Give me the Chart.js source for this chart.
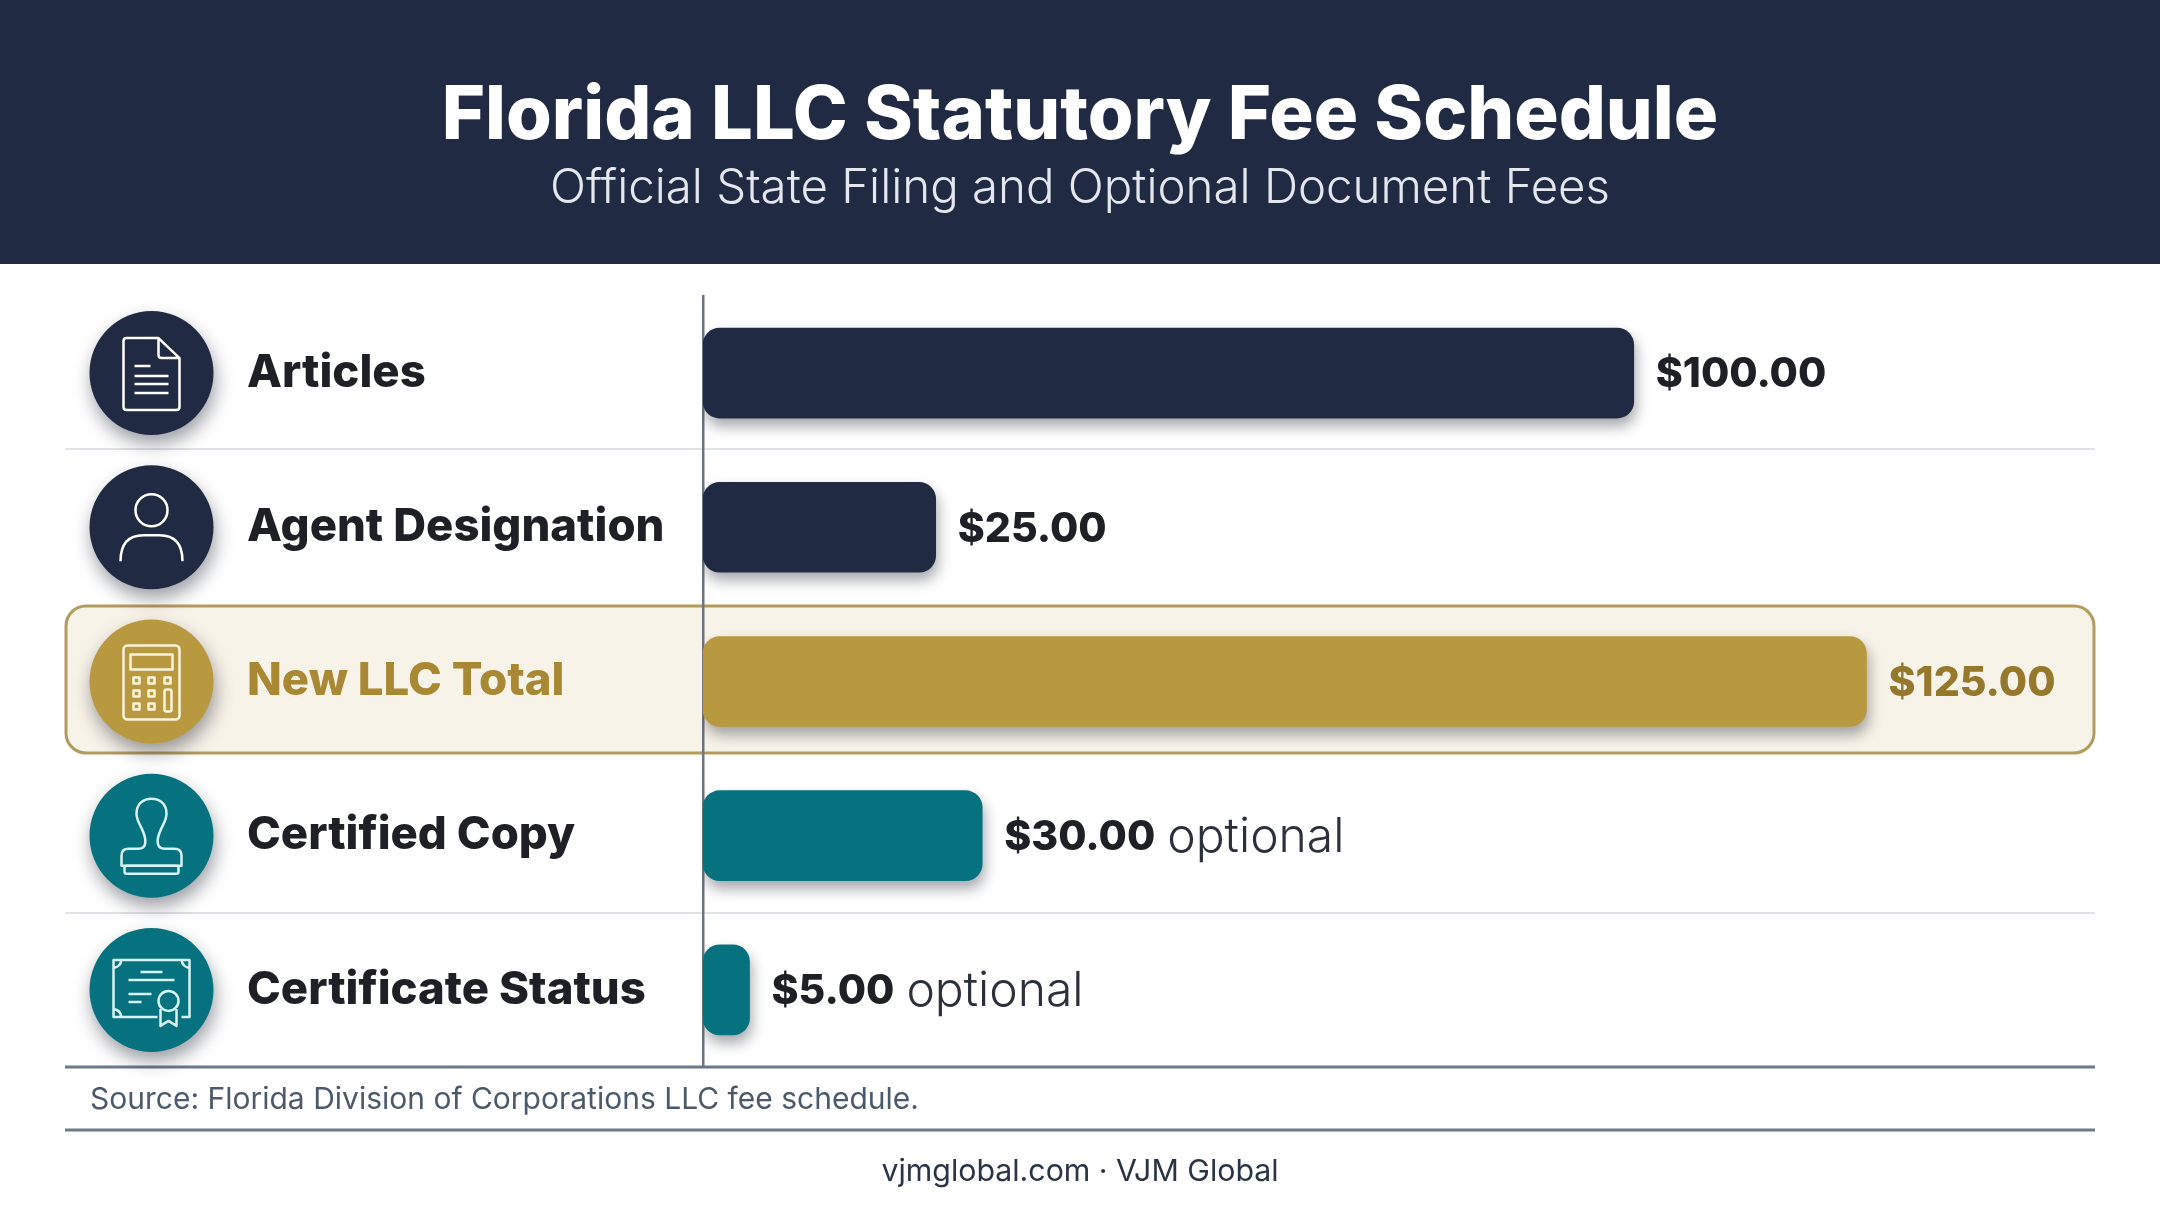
<!DOCTYPE html>
<html>
<head>
<meta charset="utf-8">
<title>Florida LLC Statutory Fee Schedule</title>
<script src="https://cdn.jsdelivr.net/npm/chart.js@4"></script>
<style>
    html, body { margin: 0; padding: 0; background: #ffffff; }
    canvas { display: block; }
</style>
</head>
<body>
<canvas id="feeChart" width="2160" height="1206"></canvas>
<script>
var titleText = 'Florida LLC Statutory Fee Schedule';
var subtitleText = 'Official State Filing and Optional Document Fees';
var sourceText = 'Source: Florida Division of Corporations LLC fee schedule.';
var footerText = 'vjmglobal.com · VJM Global';

var categories = ['Articles', 'Agent Designation', 'New LLC Total', 'Certified Copy', 'Certificate Status'];
var feeValues = [100, 25, 125, 30, 5];
var notes = ['', '', '', 'optional', 'optional'];

var NAVY = '#202a43';
var GOLD = '#b8993f';
var TEAL = '#07727f';
var barColors = [NAVY, NAVY, GOLD, TEAL, TEAL];
var labelColors = ['#1e2026', '#1e2026', '#a98833', '#1e2026', '#1e2026'];
var valueColors = ['#1e2026', '#1e2026', '#96782c', '#1e2026', '#1e2026'];
var iconColors = ['#ffffff', '#ffffff', '#fdf4dc', '#d8f3f3', '#d8f3f3'];

var FONT = 'Inter, "Open Sans", sans-serif';

function roundedRect(ctx, x, y, w, h, r) {
    ctx.beginPath();
    ctx.roundRect(x, y, w, h, r);
}

// icons are drawn around 0,0 (centre of the circle)
var icons = [
    function doc(ctx) {
        ctx.beginPath();
        ctx.moveTo(7, -35);
        ctx.lineTo(-25, -35);
        ctx.quadraticCurveTo(-28, -35, -28, -32);
        ctx.lineTo(-28, 34);
        ctx.quadraticCurveTo(-28, 37, -25, 37);
        ctx.lineTo(25, 37);
        ctx.quadraticCurveTo(28, 37, 28, 34);
        ctx.lineTo(28, -15);
        ctx.lineTo(7, -35);
        ctx.lineTo(7, -18);
        ctx.quadraticCurveTo(7, -15, 10, -15);
        ctx.lineTo(28, -15);
        ctx.moveTo(-17, -7); ctx.lineTo(-1, -7);
        ctx.moveTo(-17, 3); ctx.lineTo(17, 3);
        ctx.moveTo(-17, 11); ctx.lineTo(17, 11);
        ctx.moveTo(-17, 20); ctx.lineTo(17, 20);
        ctx.stroke();
    },
    function person(ctx) {
        ctx.beginPath();
        ctx.ellipse(0, -17, 16, 16, 0, 0, Math.PI * 2);
        ctx.moveTo(-31, 34);
        ctx.bezierCurveTo(-31, 18, -24, 8, -8, 8);
        ctx.lineTo(8, 8);
        ctx.bezierCurveTo(24, 8, 31, 18, 31, 34);
        ctx.stroke();
    },
    function calculator(ctx) {
        roundedRect(ctx, -28, -36, 56, 74, 4);
        ctx.stroke();
        ctx.strokeRect(-21, -27, 42, 15);
        [-15, 0, 16].forEach(function (x, col) {
            [-1, 12, 25].forEach(function (y, row) {
                if (col === 2 && row > 0) return;
                ctx.strokeRect(x - 3, y - 3, 6, 6);
            });
        });
        roundedRect(ctx, 13, 8, 7, 22, 2);
        ctx.stroke();
    },
    function stamp(ctx) {
        ctx.beginPath();
        ctx.moveTo(-30, 30);
        ctx.lineTo(-30, 20);
        ctx.quadraticCurveTo(-30, 13, -23, 13);
        ctx.lineTo(-13, 13);
        ctx.bezierCurveTo(-5, 13, -5, 5, -8, -3);
        ctx.bezierCurveTo(-11, -11, -15, -15, -15, -22);
        ctx.bezierCurveTo(-15, -32, -8, -37, 0, -37);
        ctx.bezierCurveTo(8, -37, 15, -32, 15, -22);
        ctx.bezierCurveTo(15, -15, 11, -11, 8, -3);
        ctx.bezierCurveTo(5, 5, 5, 13, 13, 13);
        ctx.lineTo(23, 13);
        ctx.quadraticCurveTo(30, 13, 30, 20);
        ctx.lineTo(30, 30);
        ctx.closePath();
        ctx.stroke();
        roundedRect(ctx, -27, 30, 54, 8, 2);
        ctx.stroke();
    },
    function certificate(ctx) {
        ctx.beginPath();
        ctx.rect(-38, -30, 76, 57);
        ctx.moveTo(-38, -22); ctx.quadraticCurveTo(-31, -23, -30, -30);
        ctx.moveTo(38, -22); ctx.quadraticCurveTo(31, -23, 30, -30);
        ctx.moveTo(-38, 19); ctx.quadraticCurveTo(-31, 20, -30, 27);
        ctx.moveTo(-11, -18); ctx.lineTo(11, -18);
        ctx.moveTo(-23, -10); ctx.lineTo(23, -10);
        ctx.moveTo(-23, 4); ctx.lineTo(0, 4);
        ctx.moveTo(-23, 12); ctx.lineTo(-10, 12);
        ctx.stroke();
        // seal sits over the frame
        ctx.fillStyle = TEAL;
        ctx.fillRect(6, 16, 24, 14);
        ctx.beginPath();
        ctx.moveTo(9, 19);
        ctx.lineTo(9, 36);
        ctx.lineTo(17, 31);
        ctx.lineTo(25, 36);
        ctx.lineTo(25, 19);
        ctx.fill();
        ctx.stroke();
        ctx.beginPath();
        ctx.ellipse(17, 11, 10, 10, 0, 0, Math.PI * 2);
        ctx.fill();
        ctx.stroke();
    }
];

var sheetPlugin = {
    id: 'sheet',
    beforeDraw: function (chart) {
        var ctx = chart.ctx;
        var yScale = chart.scales.y;
        ctx.save();
        // header band
        ctx.fillStyle = NAVY;
        ctx.fillRect(0, 0, chart.width, 264);

        // row separators
        ctx.strokeStyle = '#dfe2e6';
        ctx.lineWidth = 2;
        [449, 913].forEach(function (y) {
            ctx.beginPath();
            ctx.moveTo(65, y);
            ctx.lineTo(2095, y);
            ctx.stroke();
        });

        // highlighted row
        roundedRect(ctx, 66, 606, 2028, 147, 20);
        ctx.fillStyle = '#f8f3e8';
        ctx.fill();
        ctx.strokeStyle = '#b39b5c';
        ctx.lineWidth = 3;
        ctx.stroke();

        // lines above and below the source
        ctx.strokeStyle = '#6d7a8a';
        ctx.lineWidth = 3;
        [1067, 1130].forEach(function (y) {
            ctx.beginPath();
            ctx.moveTo(65, y);
            ctx.lineTo(2095, y);
            ctx.stroke();
        });

        // icon circles
        categories.forEach(function (name, i) {
            var y = yScale.getPixelForValue(i);
            ctx.save();
            ctx.shadowColor = 'rgba(20, 25, 40, 0.42)';
            ctx.shadowBlur = 18;
            ctx.shadowOffsetX = 2;
            ctx.shadowOffsetY = 9;
            ctx.fillStyle = barColors[i];
            ctx.beginPath();
            ctx.arc(151.5, y, 62, 0, Math.PI * 2);
            ctx.fill();
            ctx.restore();

            ctx.save();
            ctx.translate(151.5, y);
            ctx.strokeStyle = iconColors[i];
            ctx.lineWidth = 2.5;
            ctx.lineJoin = 'round';
            icons[i](ctx);
            ctx.restore();
        });
        ctx.restore();
    },
    beforeDatasetsDraw: function (chart) {
        var ctx = chart.ctx;
        ctx.save();
        ctx.shadowColor = 'rgba(20, 25, 40, 0.38)';
        ctx.shadowBlur = 14;
        ctx.shadowOffsetX = 2;
        ctx.shadowOffsetY = 8;
    },
    afterDatasetsDraw: function (chart) {
        var ctx = chart.ctx;
        ctx.restore();

        // value labels follow the end of each bar
        var meta = chart.getDatasetMeta(0);
        ctx.save();
        ctx.textBaseline = 'middle';
        ctx.textAlign = 'left';
        meta.data.forEach(function (bar, i) {
            var x = bar.x + 22;
            var y = bar.y + 2;
            var label = '$' + feeValues[i].toFixed(2);
            ctx.font = '800 41px ' + FONT;
            ctx.fillStyle = valueColors[i];
            ctx.fillText(label, x, y);
            if (notes[i]) {
                x += ctx.measureText(label).width + 12;
                ctx.font = '300 48px ' + FONT;
                ctx.fillStyle = '#2b303a';
                ctx.fillText(notes[i], x, y);
            }
        });
        ctx.restore();
    },
    afterDraw: function (chart) {
        var ctx = chart.ctx;
        ctx.save();
        ctx.textBaseline = 'middle';
        ctx.font = '400 30px ' + FONT;
        ctx.fillStyle = '#4b5a6b';
        ctx.textAlign = 'left';
        ctx.fillText(sourceText, 90, 1100);
        ctx.font = '400 30.3px ' + FONT;
        ctx.fillStyle = '#2a3445';
        ctx.textAlign = 'center';
        ctx.fillText(footerText, 1080, 1172);
        ctx.restore();
    }
};

new Chart(document.getElementById('feeChart').getContext('2d'), {
    type: 'bar',
    data: {
        labels: categories,
        datasets: [{
            label: 'Fee',
            data: feeValues,
            backgroundColor: barColors,
            borderRadius: 17,
            borderSkipped: false,
            barThickness: 90
        }]
    },
    options: {
        indexAxis: 'y',
        responsive: false,
        animation: false,
        layout: {
            padding: { left: 247, right: 247, top: 0, bottom: 139 }
        },
        scales: {
            x: {
                display: false,
                min: 0,
                max: 130
            },
            y: {
                afterFit: function (scale) {
                    scale.width = 456;
                },
                grid: { display: false, drawTicks: false },
                border: { display: true, color: '#6d7480', width: 2.5 },
                ticks: {
                    autoSkip: false,
                    crossAlign: 'far',
                    color: function (c) { return labelColors[c.index]; },
                    font: { family: FONT, size: 45.5, weight: '800' }
                }
            }
        },
        plugins: {
            legend: { display: false },
            tooltip: { enabled: false },
            title: {
                display: true,
                text: titleText,
                color: '#ffffff',
                font: { family: FONT, size: 74, weight: '800' },
                padding: { top: 72, bottom: 0 }
            },
            subtitle: {
                display: true,
                text: subtitleText,
                color: '#e4e7ee',
                font: { family: FONT, size: 47.4, weight: '300' },
                padding: { top: 0, bottom: 78.3 }
            }
        }
    },
    plugins: [sheetPlugin]
});
</script>
</body>
</html>
